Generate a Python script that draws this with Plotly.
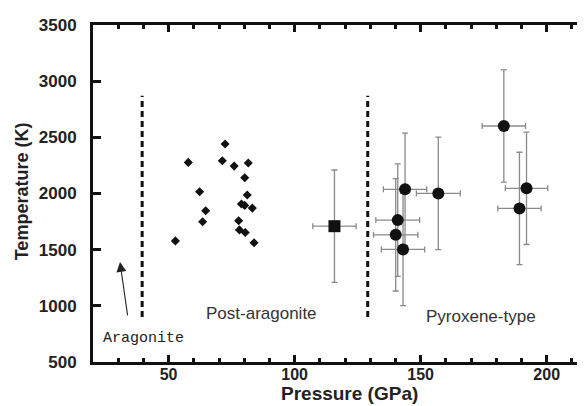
import plotly.graph_objects as go

# Post-aragonite (diamonds)
pa_P = [72.4, 57.8, 71.3, 76.0, 81.6, 80.2, 62.3, 81.2, 78.9, 80.2, 83.2, 64.7, 63.5, 77.8, 78.1, 80.4, 83.9, 52.7]
pa_T = [2440, 2277, 2291, 2244, 2271, 2140, 2015, 1986, 1906, 1894, 1870, 1846, 1748, 1757, 1676, 1653, 1561, 1578]

# square point with error bars
sq_P = [115.8]
sq_T = [1709]
sq_Perr = [8.6]
sq_Terr = [500]

# Pyroxene-type (circles with error bars)
px_P = [143.8, 140.9, 140.1, 143.0, 157.0, 183.0, 192.0, 189.2]
px_T = [2037, 1763, 1632, 1502, 2001, 2601, 2046, 1867]
px_Perr = [8.6, 8.7, 8.8, 8.6, 8.7, 8.6, 8.4, 8.6]
px_Terr = [500, 500, 500, 500, 500, 500, 500, 500]

# phase boundaries (dashed)
b1_P = [39.5, 39.5]
b2_P = [129.0, 129.0]
b_T = [900, 2870]

x_ticks = [50, 100, 150, 200]
y_ticks = [500, 1000, 1500, 2000, 2500, 3000, 3500]

err_col = "#8a8a8a"
ink = "#111"

fig = go.Figure()
for bp in (b1_P, b2_P):
    fig.add_trace(go.Scatter(x=bp, y=b_T, mode="lines",
                             line=dict(color=ink, width=3, dash="6px,4px"),
                             hoverinfo="skip"))

fig.add_trace(go.Scatter(x=pa_P, y=pa_T, mode="markers",
                         marker=dict(symbol="diamond", size=7, color=ink)))

fig.add_trace(go.Scatter(x=sq_P, y=sq_T, mode="markers",
                         marker=dict(symbol="square", size=12, color=ink),
                         error_x=dict(type="data", array=sq_Perr, color=err_col, thickness=1.3, width=3),
                         error_y=dict(type="data", array=sq_Terr, color=err_col, thickness=1.3, width=3)))

fig.add_trace(go.Scatter(x=px_P, y=px_T, mode="markers",
                         marker=dict(symbol="circle", size=12, color=ink),
                         error_x=dict(type="data", array=px_Perr, color=err_col, thickness=1.3, width=3),
                         error_y=dict(type="data", array=px_Terr, color=err_col, thickness=1.3, width=3)))

sans = "Liberation Sans, Arial"
fig.add_annotation(x=86.7, y=934, text="Post-aragonite", showarrow=False,
                   font=dict(family=sans, size=17, color="#333"))
fig.add_annotation(x=174, y=907, text="Pyroxene-type", showarrow=False,
                   font=dict(family=sans, size=17, color="#333"))
fig.add_annotation(x=40.0, y=711, text="Aragonite", showarrow=False,
                   font=dict(family="Liberation Mono, DejaVu Sans Mono, monospace", size=15, color="#222"))
fig.add_annotation(x=30.7, y=1391, ax=33.8, ay=901, axref="x", ayref="y", text="",
                   showarrow=True, arrowhead=2, arrowsize=1.8, arrowwidth=1.1, arrowcolor="#222")

# axis titles placed as annotations
fig.add_annotation(xref="paper", yref="paper", x=0.522, y=-0.094, text="Pressure (GPa)",
                   showarrow=False, xanchor="center", yanchor="middle",
                   font=dict(family=sans, size=19, weight="bold", color="#222"))
fig.add_annotation(xref="paper", yref="paper", x=-0.144, y=0.507, text="Temperature (K)",
                   showarrow=False, xanchor="center", yanchor="middle", textangle=-90,
                   font=dict(family=sans, size=18, weight="bold", color="#222"))

# page body has an 8px margin: shift/shrink figure so the plot lands where the reference has it
fig.update_layout(
    width=577, height=398,
    margin=dict(l=85, r=0, t=17, b=44),
    paper_bgcolor="white", plot_bgcolor="white",
    showlegend=False,
    font=dict(family=sans, color="#222"),
)
fig.update_xaxes(range=[20, 215.2], tickvals=x_ticks, ticks="inside", ticklen=7, tickwidth=3,
                 tickcolor=ink, showline=True, linewidth=3, linecolor=ink, mirror="ticks",
                 showgrid=False, zeroline=False, ticklabelstandoff=-4,
                 minor=dict(dtick=10, ticks="inside", ticklen=4, tickwidth=3, tickcolor=ink),
                 tickfont=dict(family=sans, size=16, weight="bold", color="#222"))
fig.update_yaxes(range=[500, 3500], tickvals=y_ticks, ticks="inside", ticklen=8, tickwidth=3,
                 tickcolor=ink, showline=True, linewidth=3, linecolor=ink,
                 showgrid=False, zeroline=False, ticklabelstandoff=10,
                 tickfont=dict(family=sans, size=17, weight="bold", color="#222"))

fig.write_html("out.html")
